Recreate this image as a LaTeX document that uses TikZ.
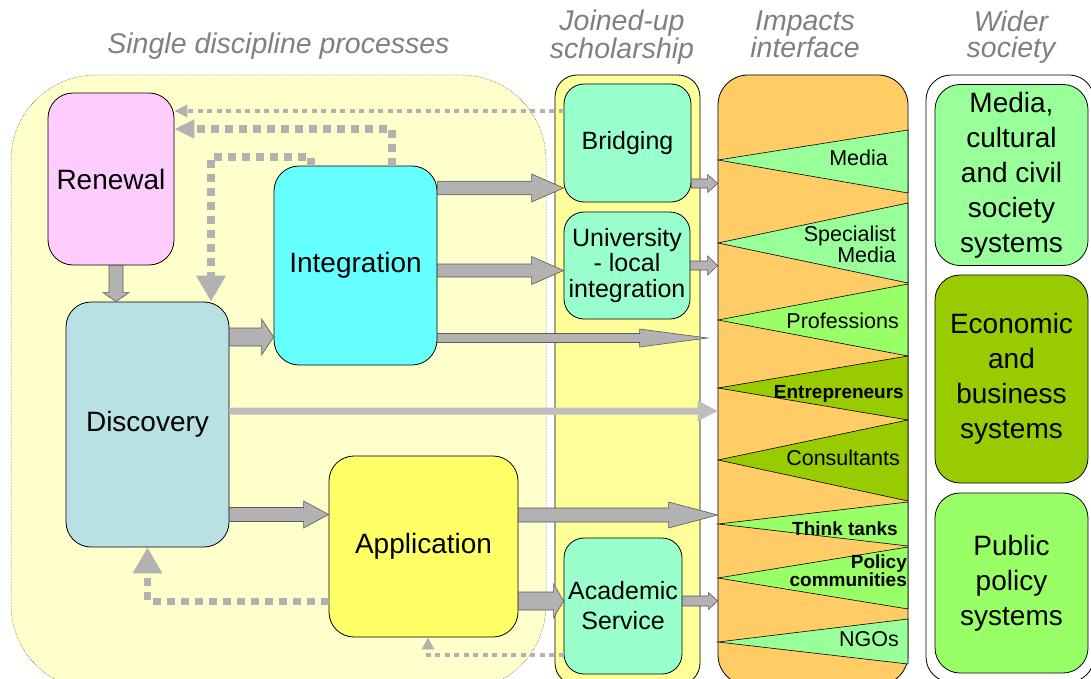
\documentclass[tikz,border=0pt]{standalone}
\usepackage{fontspec}
\setmainfont{Liberation Sans}
\usetikzlibrary{arrows.meta,calc}
\definecolor{singlebg}{RGB}{255,255,204}
\definecolor{joinedbg}{RGB}{255,255,153}
\definecolor{impactorange}{RGB}{255,204,102}
\definecolor{renewpink}{RGB}{255,204,255}
\definecolor{discblue}{RGB}{185,224,227}
\definecolor{integcyan}{RGB}{102,255,255}
\definecolor{applyellow}{RGB}{255,255,102}
\definecolor{mint}{RGB}{153,255,204}
\definecolor{softgreen}{RGB}{153,255,153}
\definecolor{brightgreen}{RGB}{153,255,102}
\definecolor{olive}{RGB}{153,204,0}
\definecolor{arrowgray}{RGB}{178,178,178}
\definecolor{headgray}{RGB}{128,128,128}

%% horizontal / vertical block arrows: start, end, half shaft, head length, half head
\newcommand{\hfat}[6][blockarrow]{%
  \path[#1] let \p1=#2, \p2=#3 in
    (\x1,\y1+#4) -- (\x2-#5,\y1+#4) -- (\x2-#5,\y1+#6) -- (\x2,\y1)
    -- (\x2-#5,\y1-#6) -- (\x2-#5,\y1-#4) -- (\x1,\y1-#4) -- cycle;}
\newcommand{\vfat}[6][blockarrow]{%
  \path[#1] let \p1=#2, \p2=#3 in
    (\x1-#4,\y1) -- (\x1-#4,\y2+#5) -- (\x1-#6,\y2+#5) -- (\x1,\y2)
    -- (\x1+#6,\y2+#5) -- (\x1+#4,\y2+#5) -- (\x1+#4,\y1) -- cycle;}

\begin{document}
\begin{tikzpicture}[x=1pt, y=-1pt,
    header/.style={font=\fontsize{28.5}{26.5}\selectfont\itshape, text=headgray, align=center, inner sep=0pt},
    procbox/.style={draw, line width=0.8pt, rounded corners=25pt, inner sep=0pt, align=center,
      font=\fontsize{28}{30}\selectfont},
    joinbox/.style={draw, line width=0.8pt, fill=mint, rounded corners=20pt, inner sep=0pt, align=center,
      font=\fontsize{25}{25.5}\selectfont},
    widebox/.style={draw, line width=0.8pt, rounded corners=25pt, inner sep=0pt, align=center,
      minimum width=153pt, font=\fontsize{28}{35}\selectfont},
    triplabel/.style={inner sep=0pt, align=right, font=\fontsize{21.5}{21}\selectfont},
    tripbold/.style={inner sep=0pt, align=right, font=\fontsize{19}{18}\selectfont\bfseries},
    blockarrow/.style={fill=arrowgray, draw=black!65, line width=0.6pt},
    lightarrow/.style={fill=arrowgray!85},
    thindot/.style={draw=arrowgray, line width=4pt, dash pattern=on 5pt off 4.5pt,
      -{Triangle[length=13pt,width=12pt]}},
    thickdash/.style={draw=arrowgray, line width=8pt, dash pattern=on 8pt off 6pt,
      -{Triangle[length=26pt,width=28pt]}}]
  \useasboundingbox (0,0) rectangle (1091,679);
  \clip (0,0) rectangle (1091,679);

  %% column backgrounds
  \node[draw=black!70, densely dotted, line width=0.5pt, fill=singlebg, rounded corners=85pt,
    minimum width=535pt, minimum height=615pt] (singlebg) at (278.5,382.5) {};
  \node[draw, line width=0.8pt, fill=joinedbg, rounded corners=22pt,
    minimum width=145pt, minimum height=610pt] (joinedbg) at (627.5,380) {};
  \node[draw, line width=0.8pt, fill=impactorange, rounded corners=30pt,
    minimum width=190pt, minimum height=610pt] (impacts) at (813,380) {};
  \node[draw, line width=0.8pt, fill=white, rounded corners=25pt,
    minimum width=168pt, minimum height=607pt] (widerbg) at (1010,378.5) {};

  %% headings
  \node[header, anchor=base] (hsingle) at (278.5,54) {Single discipline processes};
  \node[header] (hjoined) at (622,37) {Joined-up\\scholarship};
  \node[header] (himpacts) at (805,34.5) {Impacts\\interface};
  \node[header] (hwider) at (1011,37) {Wider\\society};

  %% impact wedges
  \foreach \ya/\yb/\yc/\col in {130/160/193/softgreen, 203/243/283/softgreen,
      284/320/356/brightgreen, 356/388/420/olive, 420/460/501/olive,
      502/524/546/brightgreen, 547/578/609/brightgreen, 619/642/664/softgreen}
    \filldraw[fill=\col, line width=0.6pt] (908,\ya) -- (718,\yb) -- (908,\yc) -- cycle;
  \node[triplabel, anchor=base east] (lmedia) at (888,166) {Media};
  \node[triplabel, anchor=east] (lspec) at (896,244.5) {Specialist\\Media};
  \node[triplabel, anchor=base east] (lprof) at (899,328) {Professions};
  \node[tripbold, anchor=base east] (lentre) at (904,398) {Entrepreneurs};
  \node[triplabel, anchor=base east] (lcons) at (900,465) {Consultants};
  \node[tripbold, anchor=base east] (lthink) at (898,535) {Think tanks};
  \node[tripbold, anchor=east] (lpolicy) at (907,571) {Policy\\communities};
  \node[triplabel, anchor=base east] (lngo) at (899,646) {NGOs};

  %% single discipline processes
  \node[procbox, fill=renewpink, minimum width=126pt, minimum height=172pt] (renewal) at (111,179) {Renewal};
  \node[procbox, fill=discblue, minimum width=163pt, minimum height=245pt] (discovery) at (147.5,424.5) {Discovery};
  \node[procbox, fill=integcyan, minimum width=163pt, minimum height=199pt] (integ) at (355.5,265.5) {Integration};
  \node[procbox, fill=applyellow, minimum width=189pt, minimum height=181pt] (appl) at (423.5,546.5) {Application};

  %% joined-up scholarship
  \node[joinbox, minimum width=127pt, minimum height=118pt] (bridge) at (627.5,143) {Bridging};
  \node[joinbox, minimum width=126pt, minimum height=107pt] (univ) at (627,265.5) {University\\- local\\integration};
  \node[joinbox, font=\fontsize{25}{30}\selectfont, minimum width=118pt, minimum height=136pt] (acad) at (623,606) {Academic\\Service};

  %% wider society
  \node[widebox, fill=softgreen, minimum height=181pt] (mediasys) at (1011.5,175) {Media,\\cultural\\and civil\\society\\systems};
  \node[widebox, fill=olive, minimum height=208pt] (econsys) at (1011.5,379) {Economic\\and\\business\\systems};
  \node[widebox, fill=brightgreen, minimum height=180pt] (publicsys) at (1011.5,583) {Public\\policy\\systems};

  %% feedback loops
  \coordinate (fbA) at ([yshift=32pt]bridge.west);
  \draw[thindot] (fbA) -- (fbA -| renewal.east);
  \draw[thickdash, -{Triangle[length=20pt,width=18pt]}] ([xshift=36.5pt]integ.north) |- ([yshift=50pt]renewal.east);
  \draw[thickdash] ([xshift=-44.5pt]integ.north) -- ++(0,-9) -| ([xshift=63.5pt]discovery.north);
  \draw[thickdash, line width=7pt] ([yshift=-54.5pt]appl.west) -| (discovery.south);
  \draw[thindot, -{Triangle[length=12pt,width=12pt]}] ([yshift=-49pt]acad.west) -| ([xshift=4.5pt]appl.south);

  %% flows
  \coordinate (rnA) at ([xshift=5pt]renewal.south);
  \vfat{(rnA)}{(rnA |- discovery.north)}{7pt}{9pt}{13pt}
  \coordinate (dsA) at ([yshift=87.5pt]discovery.east);
  \coordinate (dsB) at ([yshift=13.5pt]discovery.east);
  \coordinate (dsC) at ([yshift=-90pt]discovery.east);
  \hfat{(dsA)}{(dsA -| integ.west)}{9pt}{12pt}{18pt}
  \hfat[lightarrow]{(dsB)}{(dsB -| impacts.west)}{3.5pt}{20pt}{10.5pt}
  \hfat{(dsC)}{(dsC -| appl.west)}{7pt}{25pt}{13.5pt}
  \coordinate (inA) at ([yshift=77.5pt]integ.east);
  \coordinate (inB) at ([yshift=-5pt]integ.east);
  \coordinate (inC) at ([yshift=-72.5pt]integ.east);
  \hfat{(inA)}{(inA -| bridge.west)}{6.7pt}{32pt}{14pt}
  \hfat{(inB)}{(inB -| univ.west)}{6.5pt}{32pt}{14pt}
  \hfat{(inC)}{($(inC -| impacts.west)+(-10,0)$)}{4.5pt}{68pt}{9pt}
  \coordinate (apA) at ([yshift=31.5pt]appl.east);
  \coordinate (apB) at ([yshift=-54.5pt]appl.east);
  \hfat{(apA)}{(apA -| impacts.west)}{7pt}{49pt}{13pt}
  \hfat{(apB)}{(apB -| acad.west)}{9pt}{10pt}{17pt}
  \coordinate (brA) at ([yshift=-40.5pt]bridge.east);
  \coordinate (acA) at ([yshift=5pt]acad.east);
  \hfat{(brA)}{(brA -| impacts.west)}{4.5pt}{10pt}{9pt}
  \hfat{(univ.east)}{(univ.east -| impacts.west)}{4.5pt}{10pt}{9.5pt}
  \hfat{(acA)}{(acA -| impacts.west)}{5pt}{9pt}{8.5pt}
\end{tikzpicture}
\end{document}
